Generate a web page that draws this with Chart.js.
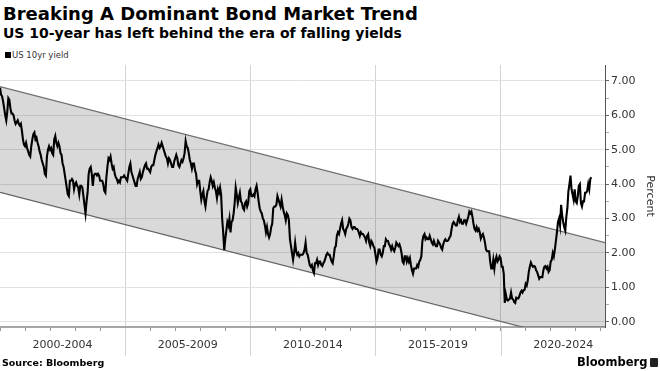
<!DOCTYPE html>
<html lang="en">
<head>
  <meta charset="UTF-8">
  <title>Breaking A Dominant Bond Market Trend</title>
  <script src="https://cdn.jsdelivr.net/npm/chart.js"></script>
  <style>
    body {
      margin: 0;
      width: 660px;
      height: 371px;
      background: #fff;
      font-family: 'DejaVu Sans', sans-serif;
      position: relative;
      overflow: hidden;
    }

    .title {
      position: absolute;
      left: 3px;
      top: 5px;
      font-size: 18px;
      font-weight: bold;
      line-height: 1;
      color: #000;
      white-space: nowrap;
    }

    .subtitle {
      position: absolute;
      left: 3px;
      top: 26px;
      font-size: 14px;
      font-weight: bold;
      line-height: 1;
      color: #000;
      white-space: nowrap;
    }

    .legend {
      position: absolute;
      left: 5px;
      top: 51px;
      font-size: 8.5px;
      line-height: 1;
      color: #333;
      white-space: nowrap;
    }

    .legend span {
      display: inline-block;
      width: 6px;
      height: 6px;
      background: #000;
      margin-right: 1px;
    }

    #chart {
      position: absolute;
      left: 0;
      top: 60px;
    }

    .source {
      position: absolute;
      left: 2px;
      top: 358px;
      font-size: 9.5px;
      font-weight: bold;
      line-height: 1;
      color: #000;
    }

    .brand {
      position: absolute;
      left: 577px;
      top: 357px;
      font-size: 11.5px;
      font-weight: bold;
      line-height: 1;
      color: #000;
    }

    .brand-icon {
      position: absolute;
      left: 650px;
      top: 358px;
      width: 8px;
      height: 9px;
      background: #222;
      border-radius: 1px;
    }
  </style>
</head>
<body>
  <div class="title">Breaking A Dominant Bond Market Trend</div>
  <div class="subtitle">US 10-year has left behind the era of falling yields</div>
  <div class="legend"><span></span>US 10yr yield</div>

  <canvas id="chart" width="660" height="311"></canvas>

  <div class="source">Source: Bloomberg</div>
  <div class="brand">Bloomberg</div>
  <div class="brand-icon"></div>

  <script>
    // US 10yr yield, two readings a month, Jan 2000 - Aug 2023
    const startYear = 2000;
    const pointsPerYear = 24;
    const yields = [
      6.80, 6.60, 6.55, 6.40, 6.20, 6.00, 5.85, 6.10, 6.50, 6.45, 6.20, 6.05, 6.05, 6.00, 5.85, 5.75, 5.80, 5.85, 5.75, 5.70, 5.75, 5.55, 5.30, 5.15, // 2000
      5.10, 5.20, 5.05, 4.95, 4.85, 4.80, 5.10, 5.30, 5.45, 5.50, 5.30, 5.35, 5.20, 5.10, 4.95, 4.85, 4.70, 4.60, 4.50, 4.30, 4.25, 4.80, 5.00, 5.10, // 2001
      5.00, 5.05, 4.90, 4.85, 5.30, 5.40, 5.20, 5.10, 5.20, 5.10, 4.90, 4.85, 4.60, 4.50, 4.30, 4.10, 3.90, 3.70, 3.65, 4.10, 4.10, 4.15, 4.10, 3.85, // 2002
      4.00, 4.05, 3.95, 3.90, 3.70, 3.95, 3.95, 3.90, 3.65, 3.40, 3.15, 3.50, 3.75, 4.30, 4.45, 4.50, 4.30, 3.95, 4.25, 4.30, 4.30, 4.25, 4.30, 4.25, // 2003
      4.10, 4.10, 4.10, 4.00, 3.80, 3.75, 4.20, 4.50, 4.75, 4.70, 4.80, 4.60, 4.45, 4.50, 4.30, 4.20, 4.15, 4.05, 4.10, 4.05, 4.20, 4.20, 4.20, 4.25, // 2004
      4.20, 4.15, 4.10, 4.30, 4.50, 4.60, 4.35, 4.25, 4.15, 4.05, 3.95, 3.95, 4.15, 4.25, 4.35, 4.15, 4.20, 4.35, 4.45, 4.55, 4.60, 4.45, 4.45, 4.40, // 2005
      4.35, 4.50, 4.55, 4.55, 4.70, 4.85, 4.95, 5.05, 5.15, 5.05, 5.10, 5.20, 5.10, 5.00, 4.90, 4.80, 4.75, 4.60, 4.75, 4.70, 4.60, 4.50, 4.50, 4.65, // 2006
      4.75, 4.85, 4.75, 4.55, 4.50, 4.60, 4.70, 4.65, 4.75, 4.90, 5.25, 5.10, 5.05, 4.90, 4.70, 4.60, 4.45, 4.60, 4.60, 4.40, 4.30, 4.00, 4.10, 4.10, // 2007
      3.80, 3.55, 3.70, 3.80, 3.50, 3.35, 3.60, 3.80, 3.85, 4.05, 4.20, 4.10, 3.95, 4.05, 3.90, 3.80, 3.60, 3.85, 3.75, 3.90, 3.70, 3.00, 2.60, 2.08, // 2008
      2.40, 2.65, 2.90, 2.80, 3.00, 2.60, 2.90, 2.95, 3.15, 3.45, 3.90, 3.70, 3.45, 3.60, 3.75, 3.50, 3.45, 3.30, 3.25, 3.45, 3.50, 3.35, 3.45, 3.80, // 2009
      3.85, 3.65, 3.65, 3.70, 3.65, 3.85, 3.95, 3.75, 3.50, 3.30, 3.20, 3.15, 3.00, 2.95, 2.80, 2.60, 2.75, 2.55, 2.45, 2.55, 2.75, 2.85, 3.30, 3.35, // 2010
      3.35, 3.40, 3.65, 3.55, 3.45, 3.35, 3.55, 3.35, 3.20, 3.10, 2.95, 3.15, 3.10, 2.95, 2.40, 2.20, 2.00, 1.80, 2.00, 2.30, 2.05, 1.95, 2.00, 1.90, // 2011
      1.95, 1.95, 1.95, 2.00, 2.10, 2.30, 2.00, 1.95, 1.80, 1.65, 1.60, 1.65, 1.50, 1.42, 1.70, 1.70, 1.80, 1.65, 1.75, 1.75, 1.65, 1.62, 1.70, 1.75, // 2012
      1.85, 1.95, 2.00, 1.95, 1.95, 1.85, 1.75, 1.70, 1.90, 2.15, 2.20, 2.50, 2.60, 2.55, 2.70, 2.85, 2.95, 2.70, 2.65, 2.55, 2.70, 2.75, 2.85, 3.00, // 2013
      2.95, 2.75, 2.70, 2.75, 2.75, 2.70, 2.70, 2.68, 2.60, 2.50, 2.60, 2.55, 2.55, 2.50, 2.45, 2.35, 2.50, 2.55, 2.30, 2.20, 2.35, 2.30, 2.20, 2.15, // 2014
      1.95, 1.75, 1.85, 2.10, 2.10, 1.95, 1.90, 2.00, 2.20, 2.20, 2.40, 2.35, 2.35, 2.25, 2.20, 2.10, 2.20, 2.10, 2.05, 2.15, 2.30, 2.25, 2.20, 2.25, // 2015
      2.15, 2.00, 1.75, 1.70, 1.90, 1.90, 1.75, 1.85, 1.75, 1.85, 1.65, 1.50, 1.40, 1.55, 1.55, 1.55, 1.65, 1.60, 1.75, 1.80, 1.90, 2.35, 2.50, 2.55, // 2016
      2.40, 2.45, 2.40, 2.40, 2.50, 2.40, 2.30, 2.25, 2.35, 2.25, 2.20, 2.20, 2.35, 2.30, 2.25, 2.15, 2.10, 2.25, 2.35, 2.40, 2.35, 2.35, 2.38, 2.45, // 2017
      2.50, 2.70, 2.85, 2.90, 2.85, 2.80, 2.80, 2.95, 3.05, 2.90, 2.95, 2.85, 2.85, 2.95, 2.95, 2.85, 2.95, 3.05, 3.20, 3.15, 3.20, 3.05, 2.85, 2.70, // 2018
      2.65, 2.75, 2.65, 2.70, 2.60, 2.42, 2.50, 2.55, 2.45, 2.30, 2.10, 2.05, 2.05, 2.05, 1.75, 1.55, 1.55, 1.80, 1.55, 1.80, 1.90, 1.75, 1.80, 1.90, // 2019
      1.85, 1.60, 1.60, 1.40, 0.55, 0.80, 0.65, 0.62, 0.65, 0.68, 0.85, 0.68, 0.65, 0.58, 0.55, 0.70, 0.68, 0.68, 0.75, 0.85, 0.90, 0.85, 0.92, 0.93, // 2020
      1.10, 1.05, 1.20, 1.45, 1.60, 1.72, 1.65, 1.60, 1.62, 1.60, 1.50, 1.45, 1.35, 1.25, 1.30, 1.30, 1.30, 1.50, 1.60, 1.62, 1.55, 1.60, 1.45, 1.50, // 2021
      1.75, 1.80, 2.00, 1.90, 2.10, 2.35, 2.60, 2.90, 3.00, 2.80, 3.40, 3.10, 2.90, 2.75, 2.65, 3.05, 3.30, 3.80, 4.00, 4.25, 3.85, 3.70, 3.55, 3.85, // 2022
      3.50, 3.45, 3.65, 3.95, 4.00, 3.45, 3.35, 3.50, 3.50, 3.75, 3.75, 3.80, 4.00, 3.85, 4.15, 4.20                                                  // 2023
    ];

    // trend channel (upper and lower edges)
    const channelYears = [2000, 2024.17];
    const channelUpper = [6.83, 2.30];
    const channelLower = [3.76, -0.77];

    // axes
    const xMin = 2000;
    const xMax = 2024.17;
    const yMin = -0.15;
    const yMax = 7.46;
    const yTicks = [0, 0.5, 1, 1.5, 2, 2.5, 3, 3.5, 4, 4.5, 5, 5.5, 6, 6.5, 7];
    const yearTicks = [2000, 2001, 2002, 2003, 2004, 2005, 2006, 2007, 2008, 2009, 2010, 2011, 2012,
                       2013, 2014, 2015, 2016, 2017, 2018, 2019, 2020, 2021, 2022, 2023, 2024];
    const separatorYears = [2005, 2010, 2015, 2020];
    const periodLabels = ['2000-2004', '2005-2009', '2010-2014', '2015-2019', '2020-2024'];
    const periodCenters = [2002.5, 2007.5, 2012.5, 2017.5, 2022.5];

    const FONT = "'DejaVu Sans', sans-serif";

    const yieldPoints = yields.map((v, i) => ({ x: startYear + i / pointsPerYear, y: v }));
    const upperPoints = channelYears.map((x, i) => ({ x: x, y: channelUpper[i] }));
    const lowerPoints = channelYears.map((x, i) => ({ x: x, y: channelLower[i] }));
    const xTickValues = yearTicks.concat(periodCenters).sort((a, b) => a - b);

    // separators run on below the axis through the label row
    const separatorTails = {
      id: 'separatorTails',
      afterDraw(chart) {
        const { ctx, chartArea, scales } = chart;
        ctx.save();
        ctx.strokeStyle = '#d4d4d4';
        ctx.lineWidth = 1;
        separatorYears.forEach(yr => {
          const px = Math.round(scales.x.getPixelForValue(yr)) + 0.5;
          ctx.beginPath();
          ctx.moveTo(px, chartArea.bottom + 1);
          ctx.lineTo(px, chartArea.bottom + 29);
          ctx.stroke();
        });
        ctx.restore();
      }
    };

    window.onload = () => {
      new Chart(document.getElementById('chart').getContext('2d'), {
        type: 'line',
        data: {
          datasets: [
            {
              label: 'US 10yr yield',
              data: yieldPoints,
              borderColor: '#000',
              borderWidth: 2.1,
              pointRadius: 0,
              tension: 0,
              fill: false,
              order: 0
            },
            {
              label: 'upper',
              data: upperPoints,
              borderColor: '#6e6e6e',
              borderWidth: 1.2,
              backgroundColor: 'rgba(0, 0, 0, 0.15)',
              pointRadius: 0,
              fill: '+1',
              clip: 0,
              order: 1
            },
            {
              label: 'lower',
              data: lowerPoints,
              borderColor: '#6e6e6e',
              borderWidth: 1.2,
              pointRadius: 0,
              fill: false,
              clip: 0,
              order: 2
            }
          ]
        },
        options: {
          responsive: false,
          animation: false,
          devicePixelRatio: 1,
          layout: { padding: { top: 5, left: 0, right: 0, bottom: 0 } },
          plugins: {
            legend: { display: false },
            tooltip: { enabled: false }
          },
          scales: {
            x: {
              type: 'linear',
              min: xMin,
              max: xMax,
              afterBuildTicks: s => { s.ticks = xTickValues.map(v => ({ value: v })); },
              afterFit: s => { s.height = 44; s.paddingLeft = 0; s.paddingRight = 0; },
              grid: {
                color: c => separatorYears.includes(c.tick && c.tick.value) ? '#d4d4d4' : 'rgba(0,0,0,0)',
                tickColor: c => Number.isInteger(c.tick && c.tick.value) ? '#9a9a9a' : 'rgba(0,0,0,0)',
                tickLength: 4
              },
              border: { color: '#a4a4a4', width: 2 },
              ticks: {
                autoSkip: false,
                maxRotation: 0,
                padding: 8,
                color: '#333',
                font: { family: FONT, size: 11 },
                callback: v => {
                  const k = periodCenters.indexOf(v);
                  return k >= 0 ? periodLabels[k] : '';
                }
              }
            },
            y: {
              position: 'right',
              min: yMin,
              max: yMax,
              afterBuildTicks: s => { s.ticks = yTicks.map(v => ({ value: v })); },
              afterFit: s => { s.width = 55; s.paddingTop = 0; s.paddingBottom = 0; },
              grid: {
                color: c => Number.isInteger(c.tick && c.tick.value) ? '#e2e2e2' : 'rgba(0,0,0,0)',
                tickColor: c => Number.isInteger(c.tick && c.tick.value) ? '#666' : '#aaa',
                tickLength: 4
              },
              border: { color: '#555', width: 1 },
              ticks: {
                padding: 2,
                color: '#333',
                font: { family: FONT, size: 11 },
                callback: v => Number.isInteger(v) ? v.toFixed(2) : ''
              },
              title: {
                display: true,
                text: 'Percent',
                color: '#333',
                font: { family: FONT, size: 11 },
                padding: { top: 4, bottom: 4 }
              }
            }
          }
        },
        plugins: [separatorTails]
      });
    };
  </script>
</body>
</html>
